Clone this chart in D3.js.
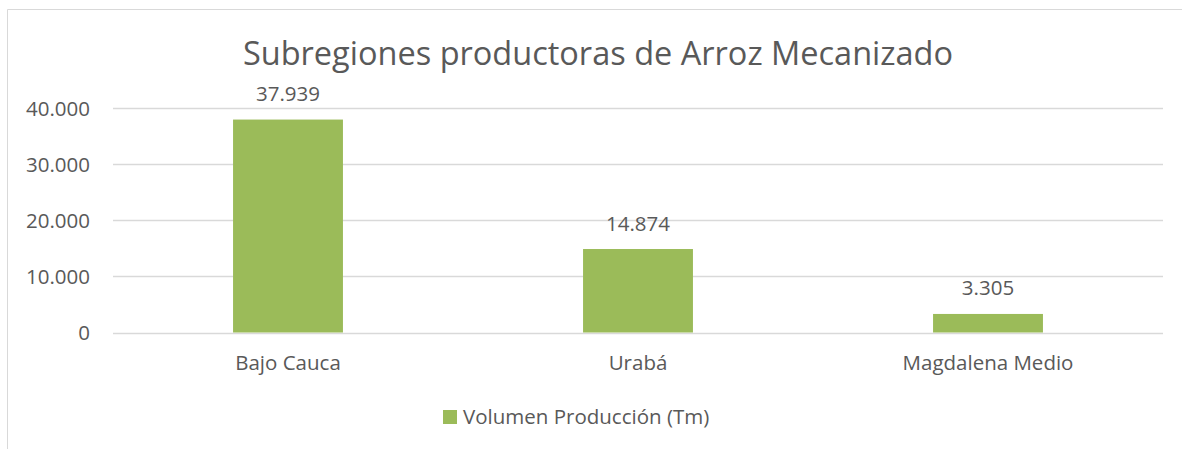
<!DOCTYPE html>
<html>
<head>
<meta charset="utf-8">
<script src="https://cdn.jsdelivr.net/npm/d3@7"></script>
<style>
  body { margin: 0; background: #fff; }
  svg { display: block; font-family: "Open Sans", sans-serif; }
</style>
</head>
<body>
<svg id="chart" width="1182" height="449"></svg>
<script>
  // data
  var categories = ['Bajo Cauca', 'Urabá', 'Magdalena Medio'];
  var values = [37939, 14874, 3305];
  var yTicks = [0, 10000, 20000, 30000, 40000];
  var seriesName = 'Volumen Producción (Tm)';
  var title = 'Subregiones productoras de Arroz Mecanizado';

  var svg = d3.select('#chart');
  var margin = { top: 108, right: 19, bottom: 116.5, left: 113 };
  var width = 1182 - margin.left - margin.right;
  var height = 449 - margin.top - margin.bottom;
  var green = '#9bbb59';
  var textColor = '#595959';
  var fmt = function (v) { return d3.format(',')(v).replace(/,/g, '.'); };

  // chart border (left and top visible)
  svg.append('path')
    .attr('d', 'M7.5,449 V9.5 H1182')
    .attr('fill', 'none')
    .attr('stroke', '#d9d9d9')
    .attr('stroke-width', 1);

  svg.append('text')
    .attr('x', 598)
    .attr('y', 65)
    .attr('text-anchor', 'middle')
    .attr('fill', textColor)
    .style('font-size', '32.5px')
    .text(title);

  var g = svg.append('g')
    .attr('transform', 'translate(' + margin.left + ',' + margin.top + ')');

  var x = d3.scaleBand()
    .domain(categories)
    .range([0, width])
    .paddingInner(0.686)
    .paddingOuter(0.343);

  var y = d3.scaleLinear()
    .domain([0, 40000])
    .range([height, 0]);

  // gridlines
  g.selectAll('.grid')
    .data(yTicks)
    .enter().append('line')
    .attr('class', 'grid')
    .attr('x1', 0)
    .attr('x2', width)
    .attr('y1', function (d) { return Math.round(y(d)) + 0.5; })
    .attr('y2', function (d) { return Math.round(y(d)) + 0.5; })
    .attr('stroke', '#d9d9d9')
    .attr('stroke-width', 1.3);

  var yAxis = g.append('g')
    .call(d3.axisLeft(y).tickValues(yTicks).tickFormat(fmt).tickSize(0).tickPadding(23));
  yAxis.select('.domain').remove();
  yAxis.selectAll('text')
    .attr('fill', textColor)
    .attr('dy', '0.35em')
    .style('font-size', '20.5px')
    .style('font-family', '"Open Sans", sans-serif');

  var xAxis = g.append('g')
    .attr('transform', 'translate(0,' + height + ')')
    .call(d3.axisBottom(x).tickSize(0).tickPadding(23));
  xAxis.select('.domain').remove();
  xAxis.selectAll('text')
    .attr('fill', textColor)
    .style('font-size', '20.5px')
    .style('font-family', '"Open Sans", sans-serif');

  g.selectAll('.bar')
    .data(values)
    .enter().append('rect')
    .attr('class', 'bar')
    .attr('x', function (d, i) { return x(categories[i]); })
    .attr('width', x.bandwidth())
    .attr('y', function (d) { return y(d); })
    .attr('height', function (d) { return height - y(d); })
    .attr('fill', green);

  g.selectAll('.label')
    .data(values)
    .enter().append('text')
    .attr('class', 'label')
    .attr('x', function (d, i) { return x(categories[i]) + x.bandwidth() / 2; })
    .attr('y', function (d) { return y(d) - 18.5; })
    .attr('text-anchor', 'middle')
    .attr('fill', textColor)
    .style('font-size', '20.5px')
    .text(fmt);

  // legend
  var legend = svg.append('g').attr('transform', 'translate(443,410)');
  legend.append('rect')
    .attr('width', 14)
    .attr('height', 14)
    .attr('fill', green);
  legend.append('text')
    .attr('x', 20)
    .attr('y', 14)
    .attr('fill', textColor)
    .style('font-size', '20.5px')
    .text(seriesName);
</script>
</body>
</html>
